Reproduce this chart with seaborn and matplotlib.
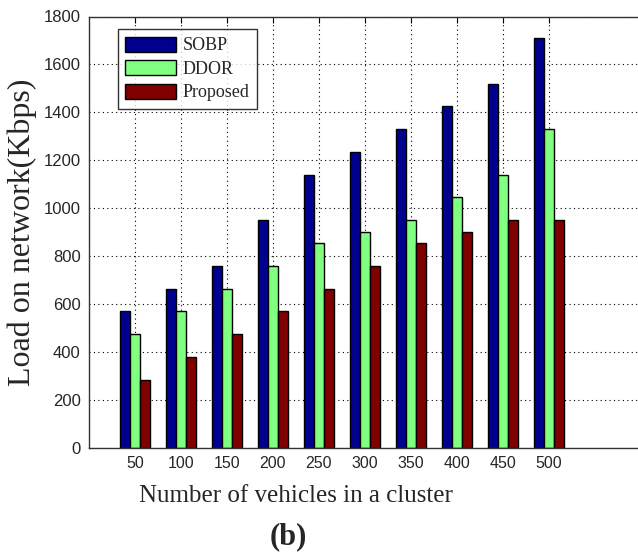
import matplotlib
matplotlib.use("Agg")
import matplotlib.pyplot as plt
import seaborn as sns
import pandas as pd

# Load on the network for each cluster size
vehicles = [50, 100, 150, 200, 250, 300, 350, 400, 450, 500]
sobp = [570, 665, 760, 950, 1140, 1235, 1330, 1425, 1520, 1710]
ddor = [475, 570, 665, 760, 855, 900, 950, 1045, 1140, 1330]
proposed = [285, 380, 475, 570, 665, 760, 855, 900, 950, 950]
methods = ["SOBP", "DDOR", "Proposed"]
yticks = [0, 200, 400, 600, 800, 1000, 1200, 1400, 1600, 1800]

df = pd.DataFrame({
    "vehicles": [str(v) for v in vehicles] * 3,
    "load": sobp + ddor + proposed,
    "method": [m for m in methods for _ in vehicles],
})

sns.set_style("white")
plt.rcParams["font.family"] = ["Liberation Sans", "DejaVu Sans"]

fig = plt.figure(figsize=(6.38, 5.55), dpi=100)
# axes box runs past the right edge of the figure (46 px per group)
x_lo, x_hi = -1.0, 11.2
ax_w = (x_hi - x_lo) * 46
ax = fig.add_axes([89 / 638, (555 - 448) / 555, ax_w / 638, 431.5 / 555])

palette = {"SOBP": "#00008F", "DDOR": "#80FF80", "Proposed": "#800000"}
sns.barplot(data=df, x="vehicles", y="load", hue="method",
            order=[str(v) for v in vehicles], hue_order=methods,
            palette=palette, saturation=1, width=0.65,
            edgecolor="black", linewidth=1.0, ax=ax, errorbar=None)

ax.set_xlim(x_lo, x_hi)
ax.set_ylim(0, 1800)
ax.set_yticks(yticks)
ax.set_yticklabels([str(t) for t in yticks], fontsize=12)
ax.tick_params(axis="x", labelsize=11.5)
ax.tick_params(direction="in", top=True, right=True, length=4,
               width=0.8, color="black", pad=6)

ax.set_axisbelow(True)
ax.grid(True, linestyle=(0, (1, 3)), color="black", linewidth=0.8)
for s in ax.spines.values():
    s.set_color("#333333")
    s.set_linewidth(1.0)

ax.set_xlabel("Number of vehicles in a cluster", fontsize=18,
              family="Liberation Serif")
ax.xaxis.set_label_coords((296 - 89) / ax_w, -(502 - 448) / 431.5)
ax.xaxis.label.set_va("baseline")
ax.set_ylabel("Load on network(Kbps)", fontsize=23,
              family="Liberation Serif", labelpad=5)

leg = ax.legend(loc="upper left", bbox_to_anchor=(29 / ax_w, 0.970),
                borderaxespad=0, frameon=True, fancybox=False,
                prop={"family": "Liberation Serif", "size": 13},
                handlelength=2.8, handleheight=0.9, labelspacing=0.32,
                handletextpad=0.4, borderpad=0.4)
leg.get_frame().set_edgecolor("black")
leg.get_frame().set_linewidth(1.0)
leg.set_title(None)

fig.text(288 / 638, 1 - 537 / 555, "(b)", ha="center", va="center",
         fontsize=22, fontweight="bold", family="Liberation Serif")

fig.savefig("out.png", dpi=100)
